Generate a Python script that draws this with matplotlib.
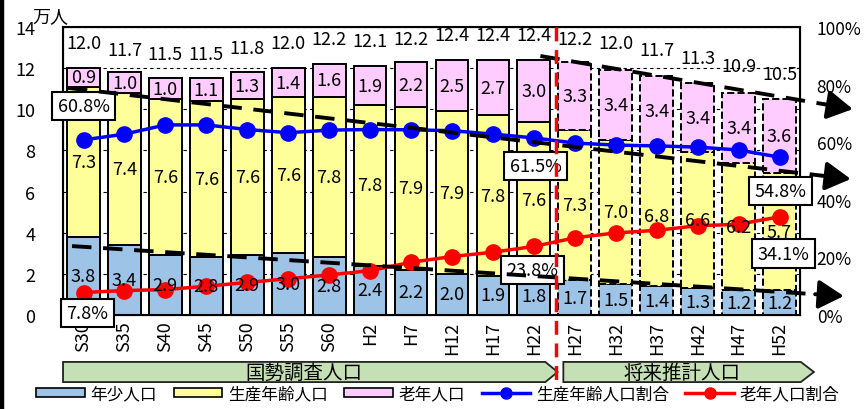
import numpy as np
import matplotlib
matplotlib.use('Agg')
import matplotlib.pyplot as plt
from matplotlib.patches import Polygon, Rectangle, Patch
from matplotlib.lines import Line2D

plt.rcParams['font.family'] = ['Noto Sans CJK JP', 'DejaVu Sans']

# data (万人)
years = ['S30', 'S35', 'S40', 'S45', 'S50', 'S55', 'S60', 'H2', 'H7', 'H12',
         'H17', 'H22', 'H27', 'H32', 'H37', 'H42', 'H47', 'H52']
young = [3.8, 3.4, 2.9, 2.8, 2.9, 3.0, 2.8, 2.4, 2.2, 2.0, 1.9, 1.8,
         1.7, 1.5, 1.4, 1.3, 1.2, 1.2]
working = [7.3, 7.4, 7.6, 7.6, 7.6, 7.6, 7.8, 7.8, 7.9, 7.9, 7.8, 7.6,
           7.3, 7.0, 6.8, 6.6, 6.2, 5.7]
old = [0.9, 1.0, 1.0, 1.1, 1.3, 1.4, 1.6, 1.9, 2.2, 2.5, 2.7, 3.0,
       3.3, 3.4, 3.4, 3.4, 3.4, 3.6]
total = [12.0, 11.7, 11.5, 11.5, 11.8, 12.0, 12.2, 12.1, 12.2, 12.4, 12.4, 12.4,
         12.2, 12.0, 11.7, 11.3, 10.9, 10.5]
# ratios (%)
working_pct = [60.8, 62.8, 66.0, 66.0, 64.4, 63.3, 64.2, 64.4, 64.3, 64.0, 62.8, 61.5,
               59.7, 59.0, 58.7, 58.3, 57.3, 54.8]
old_pct = [7.8, 8.5, 8.8, 10.0, 11.3, 12.6, 13.9, 15.4, 18.3, 20.3, 21.8, 23.8,
           26.8, 28.5, 29.4, 31.0, 31.5, 34.1]
n_past = 12  # 国勢調査 (S30-H22)

# callout boxes: (x, y on left axis, text)
callouts = [(0.01, 10.16, '60.8%'), (0.09, 0.10, '7.8%'),
            (11.04, 7.24, '61.5%'), (10.97, 2.19, '23.8%'),
            (17.03, 6.03, '54.8%'), (17.10, 2.97, '34.1%')]
# trend arrows: (start, end) in left-axis units
trends = [((-0.38, 11.04), (18.74, 6.61)),
          ((11.16, 12.59), (18.79, 10.01)),
          ((-0.28, 3.35), (18.57, 0.92))]

c_young = '#9dc3e6'
c_work = '#ffff99'
c_old = '#ffccff'

fig = plt.figure(figsize=(8.67, 4.10), dpi=100)
ax = fig.add_axes([0.0727, 0.2293, 0.85, 0.7024])
ax2 = ax.twinx()

x = np.arange(len(years))
young = np.array(young)
working = np.array(working)
old = np.array(old)

for sl, ls in [(slice(0, n_past), '-'), (slice(n_past, None), '--')]:
    xs = x[sl]
    kw = dict(width=0.8, edgecolor='black', linewidth=1.4, linestyle=ls, zorder=2)
    ax.bar(xs, young[sl], color=c_young, **kw)
    ax.bar(xs, working[sl], bottom=young[sl], color=c_work, **kw)
    ax.bar(xs, old[sl], bottom=young[sl] + working[sl], color=c_old, **kw)

ax.set_xlim(-0.5, len(years) - 0.5)
ax.set_ylim(0, 14)
ax.set_yticks(np.arange(0, 15, 2))
ax.yaxis.grid(True, color='black', linestyle=(0, (3, 3)), linewidth=0.8)
ax.set_axisbelow(True)
ax.set_xticks(x)
ax.set_xticklabels(years, rotation=90, fontsize=12)
ax.tick_params(axis='both', length=0, labelsize=13)
ax.tick_params(axis='y', pad=20)
ax.tick_params(axis='x', pad=4)
for s in ax.spines.values():
    s.set_linewidth(1.5)
ax.text(-0.042, 1.038, '万人', transform=ax.transAxes, fontsize=13,
        ha='left', va='center')

# total labels
for i, t in enumerate(total):
    ax.text(x[i], t + 1.2, f'{t:.1f}', ha='center', va='center', fontsize=13, zorder=3)

# percentage lines
ax2.set_ylim(0, 100)
ax2.set_yticks(np.arange(0, 101, 20))
ax2.set_yticklabels([f'{v}%' for v in range(0, 101, 20)])
ax2.tick_params(axis='y', length=0, labelsize=12.5, pad=12)
ax2.plot(x, working_pct, color='#0000ff', lw=2.5, marker='o', ms=11, zorder=3)
ax2.plot(x, old_pct, color='#ff0000', lw=2.5, marker='o', ms=11, zorder=3)

# segment labels
for i in range(len(years)):
    for b, v in [(0, young[i]), (young[i], working[i]), (young[i] + working[i], old[i])]:
        ax2.text(x[i], b + v / 2, f'{v:.1f}', ha='center', va='center', fontsize=13,
                 transform=ax.transData, zorder=4)

# callouts
for cx, cy, s in callouts:
    ax2.text(cx, cy, s, ha='center', va='center', fontsize=13, transform=ax.transData,
             zorder=5, bbox=dict(boxstyle='square,pad=0.3', fc='white', ec='black', lw=1.5))

# trend arrows
for (x0, y0), (x1, y1) in trends:
    f = 1 - 0.7 / (x1 - x0)
    xm, ym = x0 + (x1 - x0) * f, y0 + (y1 - y0) * f
    ax2.plot([x0, xm], [y0, ym], color='black', lw=2.8, linestyle=(0, (5, 3)),
             transform=ax.transData, clip_on=False, zorder=6)
    ax2.annotate('', xy=(x1, y1), xytext=(xm, ym), xycoords=ax.transData,
                 textcoords=ax.transData, annotation_clip=False, zorder=6,
                 arrowprops=dict(arrowstyle='-|>,head_length=0.7,head_width=0.4',
                                 color='black', lw=2.8, mutation_scale=22,
                                 shrinkA=0, shrinkB=0))

# boundary between census and projection
xb = n_past - 0.45
ax2.plot([xb, xb], [1.0, -0.233], color='#ff0000', lw=2.5, linestyle=(0, (4, 2.5)),
         transform=ax.get_xaxis_transform(), clip_on=False, zorder=7)

# period banners
tr = ax.get_xaxis_transform()
for x0, x1, tip, label in [(-0.5, 11.28, 11.58, '国勢調査人口'),
                           (11.72, 17.52, 17.84, '将来推計人口')]:
    y0, y1 = -0.163, -0.233
    poly = Polygon([(x0, y0), (x1, y0), (tip, (y0 + y1) / 2), (x1, y1), (x0, y1)],
                   closed=True, fc='#c5e0b4', ec='#222222', lw=1.3, transform=tr,
                   clip_on=False)
    ax.add_patch(poly)
    ax.text((x0 + x1) / 2, (y0 + y1) / 2, label, transform=tr, ha='center',
            va='center', fontsize=14)

# legend
handles = [Patch(fc=c_young, ec='black', lw=1.2, label='年少人口'),
           Patch(fc=c_work, ec='black', lw=1.2, label='生産年齢人口'),
           Patch(fc=c_old, ec='black', lw=1.2, label='老年人口'),
           Line2D([], [], color='#0000ff', lw=2.5, marker='o', ms=8, label='生産年齢人口割合'),
           Line2D([], [], color='#ff0000', lw=2.5, marker='o', ms=8, label='老年人口割合')]
fig.legend(handles=handles, loc='center', bbox_to_anchor=(0.505, 0.037), ncol=5,
           frameon=False, fontsize=12, handlelength=2.9, handleheight=0.45,
           handletextpad=0.35, columnspacing=1.0, borderaxespad=0)

fig.patches.append(Rectangle((0, 0), 0.004, 1, transform=fig.transFigure,
                             color='black', zorder=10))

fig.savefig('out.png', dpi=100)
